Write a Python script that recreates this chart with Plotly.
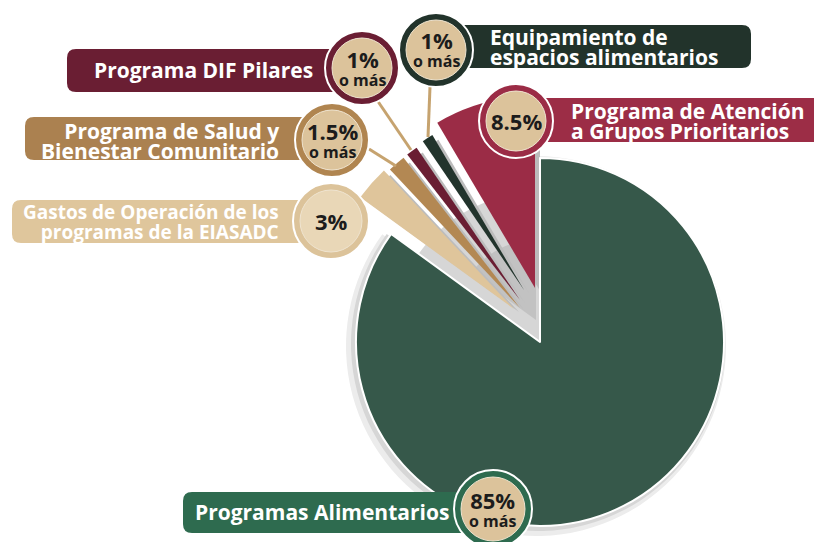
import plotly.graph_objects as go

# window is 822x542; the page body adds an 8px margin, so the figure is
# drawn at an 8px offset and sized to fit exactly.
OFF = 8
FW, FH = 814, 534

# ---- data ----
categories = [
    "Programas Alimentarios",
    "Gastos de Operación de los programas de la EIASADC",
    "Programa de Salud y Bienestar Comunitario",
    "Programa DIF Pilares",
    "Equipamiento de espacios alimentarios",
    "Programa de Atención a Grupos Prioritarios",
]
values = [85, 3, 1.5, 1, 1, 8.5]
pct_labels = ["85%", "3%", "1.5%", "1%", "1%", "8.5%"]
pct_suffix = ["o más", "", "o más", "o más", "o más", ""]
label_lines = [
    ["Programas Alimentarios"],
    ["Gastos de Operación de los", "programas de la EIASADC"],
    ["Programa de Salud y", "Bienestar Comunitario"],
    ["Programa DIF Pilares"],
    ["Equipamiento de", "espacios alimentarios"],
    ["Programa de Atención", "a Grupos Prioritarios"],
]

# ---- styles ----
slice_colors = ["#36584a", "#dfc59b", "#b38853", "#6a1e33", "#22342c", "#9b2c46"]
box_colors = ["#2e6b4f", "#dfc69c", "#ab8150", "#6a1e33", "#22332b", "#9c2d46"]
ring_colors = ["#2e6b4f", "#dcc39a", "#b08550", "#6a1e33", "#22332b", "#9b2c46"]
inner_fill = ["#dcc39b", "#e9d7b7", "#dcc39b", "#dcc39b", "#dcc39b", "#dcc39b"]
label_sizes = [21, 19, 21, 21, 21, 21]
TRANSP = "rgba(0,0,0,0)"

# apex (cx, cy) and radius for each slice, in screen pixels
slice_geo = [
    (540, 342, 184),
    (514, 309, 190),
    (520, 308, 190),
    (520, 300, 184),
    (524, 290, 180),
    (535, 288, 192),
]
# label boxes: x0, y0, x1, y1
boxes = [
    (183, 492, 470, 533),
    (12, 200, 310, 243),
    (25, 117, 310, 160),
    (67, 49, 345, 92),
    (420, 25, 751, 68),
    (520, 98, 840, 142),
]
# circles: cx, cy, R
circles = [
    (493, 509, 39),
    (331, 221, 38),
    (332, 140, 37),
    (362, 68, 37),
    (436, 50, 37),
    (516, 121, 37),
]
# text anchor: (x, anchor, center y)
text_pos = [
    (193, "left", 512),
    (281, "right", 222),
    (281, "right", 140.5),
    (315, "right", 70),
    (488, "left", 46.5),
    (569, "left", 120.5),
]
stems = [
    (377, 100, 411, 150),
    (369, 149, 396, 166),
    (430, 87, 428, 137),
]


def px(x):
    return (x - OFF) / FW


def py(y):
    return 1 - (y - OFF) / FH


def domain(cx, cy, r):
    return dict(x=[px(cx - r), px(cx + r)], y=[py(cy + r), py(cy - r)])


def pie_one(idx, cx, cy, r, color, line_color=TRANSP, line_w=0):
    cols = [color if i == idx else TRANSP for i in range(len(values))]
    lcols = [line_color if i == idx else TRANSP for i in range(len(values))]
    lw = [line_w if i == idx else 0 for i in range(len(values))]
    return go.Pie(
        labels=categories, values=values, sort=False, direction="clockwise",
        rotation=0, textinfo="none", hoverinfo="skip", showlegend=False,
        marker=dict(colors=cols, line=dict(color=lcols, width=lw)),
        domain=domain(cx, cy, r),
    )


def pie_group(cx, cy, r, color):
    return go.Pie(
        labels=["a", "b"], values=[values[0], sum(values[1:])], sort=False,
        direction="clockwise", rotation=0, textinfo="none", hoverinfo="skip",
        showlegend=False, marker=dict(colors=[TRANSP, color]),
        domain=domain(cx, cy, r),
    )


fig = go.Figure()

# soft shadow behind the main slice
g = slice_geo[0]
fig.add_trace(pie_one(0, g[0] - 4, g[1] + 4, g[2] + 6, "#ececec"))
fig.add_trace(pie_one(0, g[0] - 2, g[1] + 2, g[2] + 3, "#d6d6d6"))

# gray backing behind the small slices
fig.add_trace(pie_group(540, 342, 150, "#d6d6d6"))
fig.add_trace(pie_group(536, 320, 80, "#c2c2c2"))

# shadows of small slices
for i in range(1, len(values)):
    cx, cy, r = slice_geo[i]
    fig.add_trace(pie_one(i, cx + 5, cy + 3, r - 2, "#bcbcbc"))

# main slice
fig.add_trace(pie_one(0, *slice_geo[0], slice_colors[0], "white", 2))

# small slices
for i in range(1, len(values)):
    fig.add_trace(pie_one(i, *slice_geo[i], slice_colors[i]))

shapes = []
for (x0, y0, x1, y1) in stems:
    shapes.append(dict(type="line", xref="paper", yref="paper",
                       x0=px(x0), y0=py(y0), x1=px(x1), y1=py(y1),
                       line=dict(color="#c6a36f", width=3), layer="above"))


def rrect(x0, y0, x1, y1, r):
    pts = [
        ("M", [(x0 + r, y0)]),
        ("L", [(x1 - r, y0)]),
        ("Q", [(x1, y0), (x1, y0 + r)]),
        ("L", [(x1, y1 - r)]),
        ("Q", [(x1, y1), (x1 - r, y1)]),
        ("L", [(x0 + r, y1)]),
        ("Q", [(x0, y1), (x0, y1 - r)]),
        ("L", [(x0, y0 + r)]),
        ("Q", [(x0, y0), (x0 + r, y0)]),
    ]
    s = ""
    for cmd, ps in pts:
        s += cmd + " " + " ".join(f"{px(a):.5f},{py(b):.5f}" for a, b in ps) + " "
    return s + "Z"


for i, (x0, y0, x1, y1) in enumerate(boxes):
    shapes.append(dict(type="path", xref="paper", yref="paper",
                       path=rrect(x0, y0, x1, y1, 9),
                       fillcolor=box_colors[i], line=dict(width=0), layer="above"))

for i, (cx, cy, R) in enumerate(circles):
    shapes.append(dict(type="circle", xref="paper", yref="paper",
                       x0=px(cx - R), x1=px(cx + R), y0=py(cy + R), y1=py(cy - R),
                       fillcolor=ring_colors[i], line=dict(color="white", width=2),
                       layer="above"))
    ri = R - 7
    shapes.append(dict(type="circle", xref="paper", yref="paper",
                       x0=px(cx - ri), x1=px(cx + ri), y0=py(cy + ri), y1=py(cy - ri),
                       fillcolor=inner_fill[i], line=dict(color="#efe4d0", width=1),
                       layer="above"))

annotations = []
FONT = "Open Sans"
for i, lines in enumerate(label_lines):
    x, anchor, yc = text_pos[i]
    size = label_sizes[i]
    if len(lines) == 1:
        text, base = lines[0], size
    else:
        text = "<br>".join(f"<span style='font-size:{size}px'>{l}</span>" for l in lines)
        base = 15.4  # line spacing = 1.3 * base = 20px
    annotations.append(dict(
        xref="paper", yref="paper", x=px(x), y=py(yc),
        xanchor=anchor, yanchor="middle", align=anchor, showarrow=False, text=text,
        font=dict(family=FONT, size=base, color="white", weight=700),
    ))

for i, (cx, cy, R) in enumerate(circles):
    if pct_suffix[i]:
        text = (f"<span style='font-size:22px'>{pct_labels[i]}</span><br>"
                f"<span style='font-size:16px'>{pct_suffix[i]}</span>")
        annotations.append(dict(
            xref="paper", yref="paper", x=px(cx), y=py(cy - 1),
            xanchor="center", yanchor="middle", showarrow=False, text=text,
            font=dict(family=FONT, size=13.8, color="#1c1c1c", weight=700)))
    else:
        annotations.append(dict(
            xref="paper", yref="paper", x=px(cx), y=py(cy),
            xanchor="center", yanchor="middle", showarrow=False, text=pct_labels[i],
            font=dict(family=FONT, size=22, color="#1c1c1c", weight=700)))

fig.update_layout(
    width=FW, height=FH,
    margin=dict(l=0, r=0, t=0, b=0),
    paper_bgcolor="white", plot_bgcolor="white",
    shapes=shapes, annotations=annotations,
    showlegend=False,
)

fig.write_html("out.html")
